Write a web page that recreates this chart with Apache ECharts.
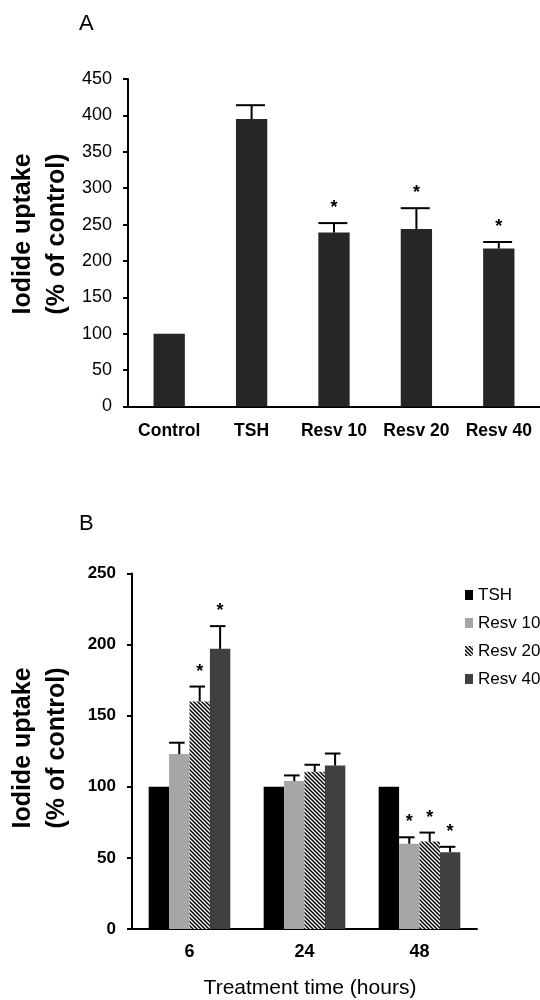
<!DOCTYPE html>
<html>
<head>
<meta charset="utf-8">
<script src="https://cdn.jsdelivr.net/npm/echarts@6/dist/echarts.min.js"></script>
<style>
html,body{margin:0;padding:0;background:#fff;}
#chart{width:540px;height:1000px;}
</style>
</head>
<body>
<div id="chart"></div>
<script>
// ---------- Data: panel A ----------
const catsA = ['Control', 'TSH', 'Resv 10', 'Resv 20', 'Resv 40'];
const meanA = [100, 395, 239, 244, 217];
const errA  = [0, 19, 13, 28.5, 9];
const sigA  = [0, 0, 1, 1, 1];
const ticksA = [0, 50, 100, 150, 200, 250, 300, 350, 400, 450];

// ---------- Data: panel B ----------
const catsB = ['6', '24', '48'];
const seriesNamesB = ['TSH', 'Resv 10', 'Resv 20', 'Resv 40'];
const tshB   = [100, 100, 100];
const r10B   = [123, 104, 60];
const r20B   = [160, 110.5, 61.5];
const r40B   = [197, 115, 54];
const tshErrB = [0, 0, 0];
const r10ErrB = [8, 4, 4.5];
const r20ErrB = [10.5, 5, 6.3];
const r40ErrB = [16, 8.4, 3.8];
const tshSigB = [0, 0, 0];
const r10SigB = [0, 0, 1];
const r20SigB = [1, 0, 1];
const r40SigB = [1, 0, 1];
const ticksB = [0, 50, 100, 150, 200, 250];

const SANS = "'Liberation Sans', Arial, sans-serif";

// hatch pattern
function makeHatch() {
  const c = document.createElement('canvas');
  c.width = 4; c.height = 4;
  const g = c.getContext('2d');
  g.fillStyle = '#fff'; g.fillRect(0, 0, 4, 4);
  g.strokeStyle = '#000'; g.lineWidth = 1.5;
  g.beginPath();
  g.moveTo(-1, -1); g.lineTo(5, 5);
  g.moveTo(-1, 3); g.lineTo(1, 5);
  g.moveTo(3, -1); g.lineTo(5, 1);
  g.stroke();
  return c;
}
const hatch = { image: makeHatch(), repeat: 'repeat' };

// error bar + significance star renderer
// barFrac: fraction of the category band covered by one bar
function errRender(nSeries, idx, barFrac, capW) {
  return function (params, api) {
    const cat = api.value(0), mean = api.value(1), err = api.value(2), sig = api.value(3);
    const base = api.coord([cat, mean]);
    const band = api.size([1, 0])[0];
    const bw = band * barFrac;
    const x = base[0] + (idx - (nSeries - 1) / 2) * bw;
    const top = api.coord([cat, mean + err])[1];
    const left = x - bw / 2;
    const children = [];
    const st = { stroke: '#000', lineWidth: 2 };
    if (err > 0) {
      children.push({ type: 'line', shape: { x1: x, y1: base[1], x2: x, y2: top }, style: st });
      children.push({ type: 'line', shape: { x1: left, y1: top, x2: left + capW, y2: top }, style: st });
    }
    if (sig) {
      children.push({ type: 'text', style: { x: x, y: top - 6, text: '*', fill: '#000',
        font: 'bold 18px ' + SANS, textAlign: 'center', textVerticalAlign: 'bottom' } });
    }
    return { type: 'group', children: children };
  };
}

function zipErr(means, errs, sigs) {
  return means.map((m, i) => [i, m, errs[i], sigs[i]]);
}

const chart = echarts.init(document.getElementById('chart'), null, { renderer: 'canvas' });

const gapB = 0.29;
const colorsB = ['#000000', '#a6a6a6', hatch, '#404040'];
const meansB = [tshB, r10B, r20B, r40B];
const errsB = [tshErrB, r10ErrB, r20ErrB, r40ErrB];
const sigsB = [tshSigB, r10SigB, r20SigB, r40SigB];

const seriesB = [];
seriesNamesB.forEach((n, i) => {
  seriesB.push({
    name: n, type: 'bar', xAxisIndex: 1, yAxisIndex: 1,
    data: meansB[i], barGap: '0%', barCategoryGap: (gapB * 100) + '%',
    itemStyle: { color: colorsB[i] }, z: 2
  });
});
seriesNamesB.forEach((n, i) => {
  seriesB.push({
    type: 'custom', xAxisIndex: 1, yAxisIndex: 1, z: 3,
    renderItem: errRender(4, i, (1 - gapB) / 4, 15.5),
    data: zipErr(meansB[i], errsB[i], sigsB[i]),
    encode: { x: 0, y: [1, 2] }
  });
});

const barFracA = 0.38;

const option = {
  animation: false,
  backgroundColor: '#fff',
  grid: [
    { left: 128, top: 79, width: 412, height: 327.5 },
    { left: 132, top: 573.5, width: 345, height: 355.5 }
  ],
  legend: {
    data: seriesNamesB,
    orient: 'vertical', left: 465, top: 586, padding: 0,
    itemWidth: 8, itemHeight: 10, itemGap: 10,
    icon: 'rect',
    textStyle: { fontFamily: SANS, fontSize: 17, color: '#000', lineHeight: 18 },
    selectedMode: false
  },
  xAxis: [
    { gridIndex: 0, type: 'category', data: catsA,
      axisLine: { lineStyle: { color: '#000', width: 2 } },
      axisTick: { length: 7, lineStyle: { color: '#000', width: 2 } },
      axisLabel: { fontFamily: SANS, fontWeight: 'bold', fontSize: 17.5, color: '#000', margin: 16, interval: 0 } },
    { gridIndex: 1, type: 'category', data: catsB,
      axisLine: { lineStyle: { color: '#000', width: 2 } },
      axisTick: { length: 6, lineStyle: { color: '#000', width: 2 } },
      axisLabel: { fontFamily: SANS, fontWeight: 'bold', fontSize: 18, color: '#000', margin: 14, interval: 0 } }
  ],
  yAxis: [
    { gridIndex: 0, type: 'value', min: ticksA[0], max: ticksA[ticksA.length - 1], interval: 50,
      splitLine: { show: false },
      axisLine: { show: true, lineStyle: { color: '#000', width: 2 } },
      axisTick: { show: true, length: 5, lineStyle: { color: '#000', width: 2 } },
      axisLabel: { fontFamily: SANS, fontSize: 18, color: '#000', margin: 16 } },
    { gridIndex: 1, type: 'value', min: ticksB[0], max: ticksB[ticksB.length - 1], interval: 50,
      splitLine: { show: false },
      axisLine: { show: true, lineStyle: { color: '#000', width: 2 } },
      axisTick: { show: true, length: 5, lineStyle: { color: '#000', width: 2 } },
      axisLabel: { fontFamily: SANS, fontWeight: 'bold', fontSize: 17, color: '#000', margin: 16 } }
  ],
  graphic: [
    { type: 'text', left: 79, top: 13, style: { text: 'A', font: '22px ' + SANS, fill: '#000' } },
    { type: 'text', left: 79, top: 513, style: { text: 'B', font: '22px ' + SANS, fill: '#000' } },
    { type: 'text', x: 23, y: 234, rotation: Math.PI / 2,
      style: { text: 'Iodide uptake', font: 'bold 25px ' + SANS, fill: '#000', textAlign: 'center', textVerticalAlign: 'middle' } },
    { type: 'text', x: 57, y: 234, rotation: Math.PI / 2,
      style: { text: '(% of control)', font: 'bold 25px ' + SANS, fill: '#000', textAlign: 'center', textVerticalAlign: 'middle' } },
    { type: 'text', x: 23, y: 748, rotation: Math.PI / 2,
      style: { text: 'Iodide uptake', font: 'bold 25px ' + SANS, fill: '#000', textAlign: 'center', textVerticalAlign: 'middle' } },
    { type: 'text', x: 57, y: 748, rotation: Math.PI / 2,
      style: { text: '(% of control)', font: 'bold 25px ' + SANS, fill: '#000', textAlign: 'center', textVerticalAlign: 'middle' } },
    { type: 'text', x: 310, y: 988,
      style: { text: 'Treatment time (hours)', font: '21px ' + SANS, fill: '#000', textAlign: 'center', textVerticalAlign: 'middle' } }
  ],
  series: [
    { type: 'bar', xAxisIndex: 0, yAxisIndex: 0, data: meanA, barWidth: (barFracA * 100) + '%',
      itemStyle: { color: '#262626' }, z: 2 },
    { type: 'custom', xAxisIndex: 0, yAxisIndex: 0, z: 3,
      renderItem: errRender(1, 0, barFracA, 29),
      data: zipErr(meanA, errA, sigA),
      encode: { x: 0, y: [1, 2] } }
  ].concat(seriesB)
};
chart.setOption(option);
</script>
</body>
</html>
